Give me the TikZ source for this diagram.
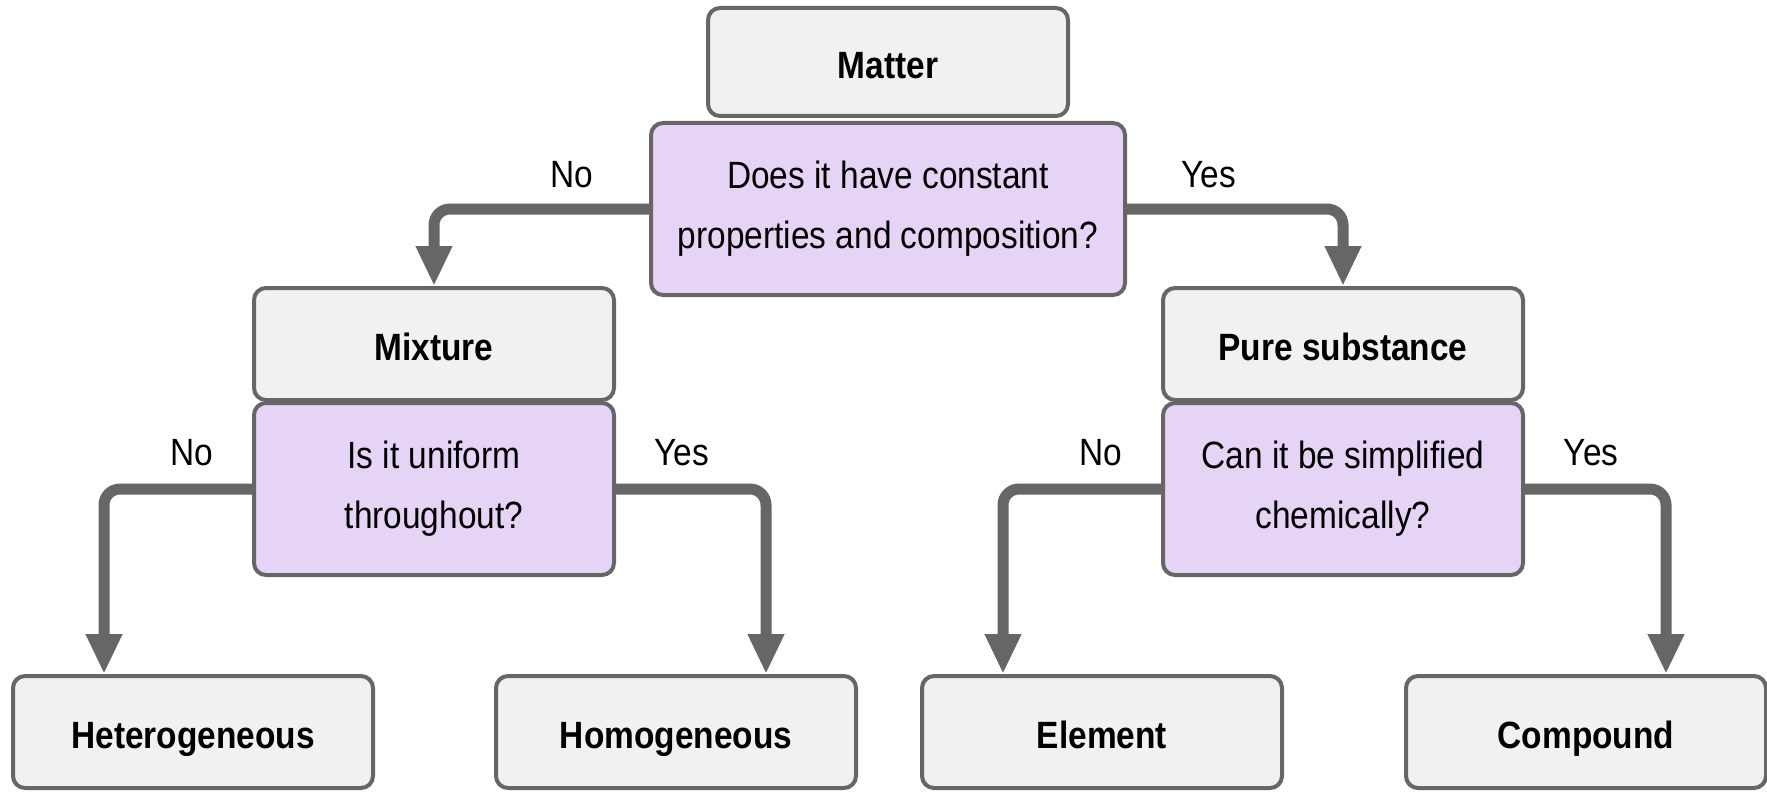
\documentclass[tikz,border=0pt]{standalone}
\usepackage{fontspec}
\setmainfont[FakeStretch=0.88]{Liberation Sans}
\usetikzlibrary{arrows.meta}
\definecolor{edgegray}{HTML}{666666}
\definecolor{boxgray}{HTML}{F1F1F1}
\definecolor{boxpurple}{HTML}{E6D4F6}
\begin{document}
\begin{tikzpicture}[x=0.5pt,y=-0.5pt,
  box/.style={draw=edgegray, line width=2pt, rounded corners=6pt, fill=boxgray,
    minimum width=180pt, minimum height=56pt, inner sep=0pt, align=center,
    text height=17pt, text depth=0.5pt,
    font=\fontsize{19}{30}\selectfont\bfseries},
  qbox/.style={box, fill=boxpurple, minimum height=86pt, text height=, text depth=,
    font=\fontsize{19}{30}\selectfont},
  arr/.style={draw=edgegray, line width=5.5pt, rounded corners=8pt,
    -{Triangle[width=17pt,length=20pt]}},
  lab/.style={font=\fontsize{19}{30}\selectfont, inner sep=0pt}]
\useasboundingbox[fill=white] (0,0) rectangle (1767,797);

% top
\node[box, minimum height=54pt] (matter) at (888,62) {Matter};
\node[qbox, minimum width=237pt] (q1) at (888,209) {Does it have constant\\properties and composition?};

% middle
\node[box] (mix) at (434,344) {Mixture};
\node[qbox] (q2) at (434,489) {Is it uniform\\throughout?};
\node[box] (pure) at (1343,344) {Pure substance};
\node[qbox] (q3) at (1343,489) {Can it be simplified\\chemically?};

% bottom
\node[box] (het) at (193,732) {Heterogeneous};
\node[box] (hom) at (676,732) {Homogeneous};
\node[box] (elem) at (1102,732) {Element};
\node[box] (comp) at (1586,732) {Compound};

% connectors
\draw[arr] (q1.west) -| (mix.north);
\draw[arr] (q1.east) -| (pure.north);
\draw[arr] (q2.west) -| ([xshift=-89*0.5pt]het.north);
\draw[arr] (q2.east) -| ([xshift=90*0.5pt]hom.north);
\draw[arr] (q3.west) -| ([xshift=-99*0.5pt]elem.north);
\draw[arr] (q3.east) -| ([xshift=80*0.5pt]comp.north);

% labels
\node[lab] (l1) at (572,175) {No};
\node[lab] (l2) at (1209,175) {Yes};
\node[lab] (l3) at (192,453) {No};
\node[lab] (l4) at (682,453) {Yes};
\node[lab] (l5) at (1101,453) {No};
\node[lab] (l6) at (1591,453) {Yes};
\end{tikzpicture}
\end{document}
